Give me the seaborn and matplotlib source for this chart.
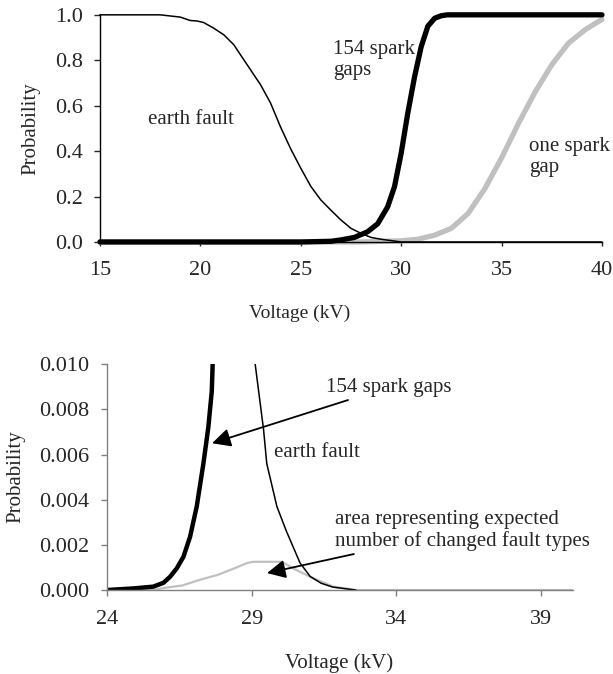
import numpy as np
import pandas as pd
import matplotlib
matplotlib.use("Agg")
import matplotlib.pyplot as plt
import seaborn as sns
from matplotlib.ticker import FormatStrFormatter

# Top panel: cumulative probabilities over the full voltage range
ef_top_kv = [15, 18, 19, 19.5, 19.83, 20.17, 20.67, 21.17, 21.67, 22, 22.5, 23, 23.5, 24, 24.5, 25,
             25.5, 26, 26.5, 27, 27.5, 28, 28.5, 29, 29.5, 30, 40]
ef_top_p = [1.0, 1.0, 0.99, 0.975, 0.973, 0.966, 0.941, 0.912, 0.868, 0.824, 0.758, 0.692, 0.611, 0.505, 0.41, 0.325,
            0.245, 0.185, 0.14, 0.097, 0.06, 0.038, 0.02, 0.012, 0.006, 0.0, 0.0]

sg_top_kv = [15, 25, 26.5, 27, 27.67, 28.33, 28.83, 29.33, 29.67, 30, 30.33, 30.67, 31, 31.33, 31.67, 32, 32.3, 40]
sg_top_p = [0.0, 0.0, 0.003, 0.009, 0.02, 0.045, 0.08, 0.155, 0.244, 0.39, 0.567, 0.728, 0.86, 0.95, 0.985, 0.996, 1.0, 1.0]

one_top_kv = [15, 28, 29, 30, 30.83, 31.67, 32.5, 33.33, 34.17, 35, 35.83, 36.67, 37.5, 38.33, 39.17, 40]
one_top_p = [0.0, 0.0, 0.003, 0.005, 0.012, 0.03, 0.06, 0.125, 0.235, 0.37, 0.52, 0.66, 0.78, 0.875, 0.935, 0.98]

# Bottom panel: zoom on the low-probability region
sg_bot_kv = [24, 24.91, 25.6, 25.95, 26.18, 26.41, 26.64, 26.87, 27.1, 27.33, 27.5, 27.62, 27.65, 27.7]
sg_bot_p = [0.0, 0.00007, 0.00015, 0.00032, 0.00059, 0.00096, 0.00147, 0.00236, 0.0037, 0.0056, 0.0072, 0.0088, 0.0100, 0.0115]

ef_bot_kv = [29.05, 29.12, 29.41, 29.52, 29.87, 30.2, 30.67, 31.02, 31.4, 31.8, 32.6]
ef_bot_p = [0.0115, 0.0100, 0.0071, 0.0056, 0.0037, 0.0026, 0.0012, 0.0006, 0.0003, 0.00013, 0.0]

area_bot_kv = [24, 25.6, 26.0, 26.6, 27.2, 27.8, 28.4, 28.85, 29.06, 30.04, 30.55, 31.13, 31.82, 32.6, 40.1]
area_bot_p = [0.0, 0.0, 0.0001, 0.0002, 0.00045, 0.00066, 0.00096, 0.0012, 0.00125, 0.00125, 0.00088, 0.00052, 0.00015, 0.0, 0.0]

top_xticks = [15, 20, 25, 30, 35, 40]
top_yticks = [0.0, 0.2, 0.4, 0.6, 0.8, 1.0]
bot_xticks = [24, 29, 34, 39]
bot_yticks = [0.0, 0.002, 0.004, 0.006, 0.008, 0.010]

sns.set_style("ticks")
plt.rcParams['font.family'] = ['Liberation Serif', 'DejaVu Serif']
plt.rcParams['font.size'] = 15

GREY = "#c0c0c0"

fig = plt.figure(figsize=(6.13, 6.74), dpi=100)
ax1 = fig.add_axes([0.163, 0.641, 0.819, 0.337])
ax2 = fig.add_axes([0.1746, 0.1246, 0.760, 0.335])

# top chart
sns.lineplot(x=one_top_kv, y=one_top_p, ax=ax1, color=GREY, lw=3.8, clip_on=False)
sns.lineplot(x=sg_top_kv, y=sg_top_p, ax=ax1, color="black", lw=3.8, clip_on=False)
sns.lineplot(x=ef_top_kv, y=ef_top_p, ax=ax1, color="black", lw=1.1, clip_on=False)
ax1.set_xlim(15, 40)
ax1.set_ylim(0, 1.0)
ax1.set_xticks(top_xticks)
ax1.set_yticks(top_yticks)
ax1.yaxis.set_major_formatter(FormatStrFormatter("%.1f"))
ax1.set_xlabel("Voltage (kV)", fontsize=14)
ax1.set_ylabel("Probability", fontsize=15)
ax1.xaxis.set_label_coords(0.398, -0.2775)
ax1.yaxis.set_label_coords(-0.118, 0.5)
ax1.tick_params(axis='x', length=3, width=1, pad=10.5, labelsize=16)
ax1.tick_params(axis='y', length=4, width=1, pad=8.5, labelsize=16)
ax1.text(17.4, 0.537, "earth fault", va="center", ha="left", fontsize=15)
ax1.text(26.6, 0.80, "154 spark\ngaps", va="center", ha="left", fontsize=15, linespacing=1.15)
ax1.text(36.35, 0.375, "one spark\ngap", va="center", ha="left", fontsize=15, linespacing=1.15)
for s in ["top", "right"]:
    ax1.spines[s].set_visible(False)
for s in ["left", "bottom"]:
    ax1.spines[s].set_color("black")
    ax1.spines[s].set_linewidth(1)

# bottom chart
sns.lineplot(x=area_bot_kv, y=area_bot_p, ax=ax2, color=GREY, lw=1.6)
sns.lineplot(x=sg_bot_kv, y=sg_bot_p, ax=ax2, color="black", lw=3.2)
sns.lineplot(x=ef_bot_kv, y=ef_bot_p, ax=ax2, color="black", lw=1.1)
ax2.set_xlim(24, 40.1)
ax2.set_ylim(0, 0.010)
ax2.set_xticks(bot_xticks)
ax2.set_yticks(bot_yticks)
ax2.yaxis.set_major_formatter(FormatStrFormatter("%.3f"))
ax2.set_xlabel("Voltage (kV)", fontsize=15)
ax2.set_ylabel("Probability", fontsize=15)
ax2.xaxis.set_label_coords(0.498, -0.279)
ax2.yaxis.set_label_coords(-0.175, 0.5)
ax2.tick_params(axis='x', length=4, width=1, pad=10.5, labelsize=16, color="#808080")
ax2.tick_params(axis='y', length=4, width=1, pad=8.5, labelsize=16, color="#808080")
for s in ["top", "right"]:
    ax2.spines[s].set_visible(False)
for s in ["left", "bottom"]:
    ax2.spines[s].set_color("#808080")
    ax2.spines[s].set_linewidth(1)

arrow = dict(arrowstyle="-|>", color="black", lw=1.3, mutation_scale=28, shrinkA=0, shrinkB=0)
ax2.annotate("154 spark gaps", xy=(27.63, 0.0065), xytext=(31.55, 0.00898),
             ha="left", va="center", fontsize=15, arrowprops=arrow)
ax2.text(29.77, 0.0061, "earth fault", ha="left", va="center", fontsize=15)
ax2.annotate("area representing expected\nnumber of changed fault types",
             xy=(29.53, 0.00075), xytext=(31.88, 0.00265),
             ha="left", va="center", fontsize=15, linespacing=1.15, arrowprops=arrow)

for ax in (ax1, ax2):
    ax.grid(False)

fig.savefig("out.png", dpi=100)
